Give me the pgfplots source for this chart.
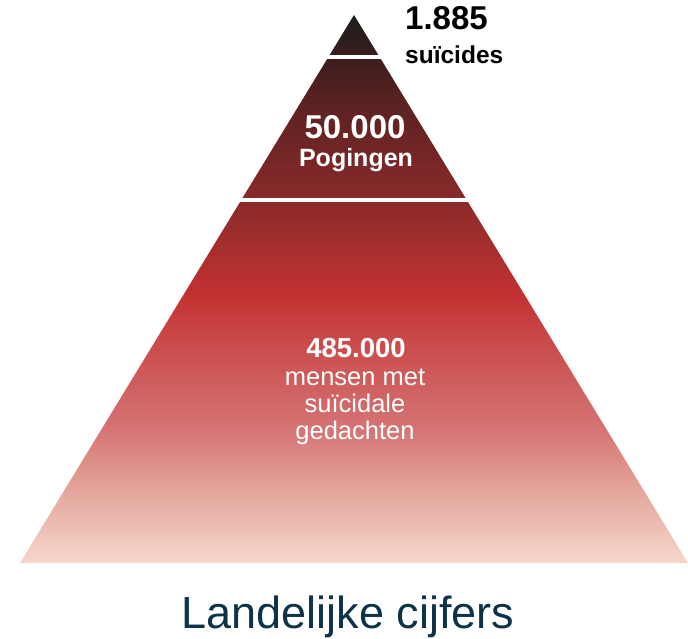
\documentclass[border=0pt]{standalone}
\usepackage{pgfplots}
\pgfplotsset{compat=1.18}
\usepackage{fontspec}
\setmainfont{Liberation Sans}
\definecolor{s0}{HTML}{F5D7CA}
\definecolor{s1}{HTML}{E6ADA3}
\definecolor{s2}{HTML}{D57575}
\definecolor{s3}{HTML}{C94444}
\definecolor{s4}{HTML}{C43232}
\definecolor{s5}{HTML}{8A2A2A}
\definecolor{s6}{HTML}{5A2121}
\definecolor{s7}{HTML}{3C1E1E}
\definecolor{s8}{HTML}{1E1C1C}
\definecolor{titlec}{HTML}{0D3349}
\pgfdeclareverticalshading{pyr}{100bp}{color(0bp)=(s0); color(25bp)=(s0); color(30.7bp)=(s1); color(37.1bp)=(s2); color(46.3bp)=(s3); color(49.3bp)=(s4); color(58.1bp)=(s5); color(67.2bp)=(s6); color(70.9bp)=(s7); color(75bp)=(s8); color(100bp)=(s8)}
\begin{document}
\begin{tikzpicture}
\begin{axis}[
  width=688pt, height=638pt, scale only axis,
  xmin=0, xmax=688, ymin=0, ymax=638,
  hide axis, clip=false,
]
\path (axis cs:0,0) rectangle (axis cs:688,638);
% pyramid outline (pixels, y flipped)
\addplot[draw=none, shading=pyr, no markers] coordinates {(20,75) (354,623) (688,75)} -- cycle;
% separating white lines
\addplot[white, line width=3.2pt, no markers] coordinates {(327,581) (381,581)};
\addplot[white, line width=3.2pt, no markers] coordinates {(239,438) (469,438)};
% labels
\node[anchor=base west, font=\fontsize{33}{33}\selectfont\bfseries, text=black, inner sep=0pt] at (axis cs:405,608) {1.885};
\node[anchor=base west, font=\fontsize{24.5}{24.5}\selectfont\bfseries, text=black, inner sep=0pt] at (axis cs:405,574) {suïcides};
\node[anchor=base, font=\fontsize{33}{33}\selectfont\bfseries, text=white, inner sep=0pt] at (axis cs:355,499) {50.000};
\node[anchor=base, font=\fontsize{25}{25}\selectfont\bfseries, text=white, inner sep=0pt] at (axis cs:356,471) {Pogingen};
\node[anchor=base, font=\fontsize{27.5}{27.5}\selectfont\bfseries, text=white, inner sep=0pt] at (axis cs:356,280) {485.000};
\node[anchor=base, font=\fontsize{25.5}{25.5}\selectfont, text=white, inner sep=0pt] at (axis cs:355,253) {mensen met};
\node[anchor=base, font=\fontsize{25.5}{25.5}\selectfont, text=white, inner sep=0pt] at (axis cs:355,226) {suïcidale};
\node[anchor=base, font=\fontsize{25.5}{25.5}\selectfont, text=white, inner sep=0pt] at (axis cs:355,199) {gedachten};
\node[anchor=base, font=\fontsize{45}{45}\selectfont, text=titlec, inner sep=0pt] at (axis cs:348,10) {Landelijke cijfers};
\end{axis}
\end{tikzpicture}
\end{document}
